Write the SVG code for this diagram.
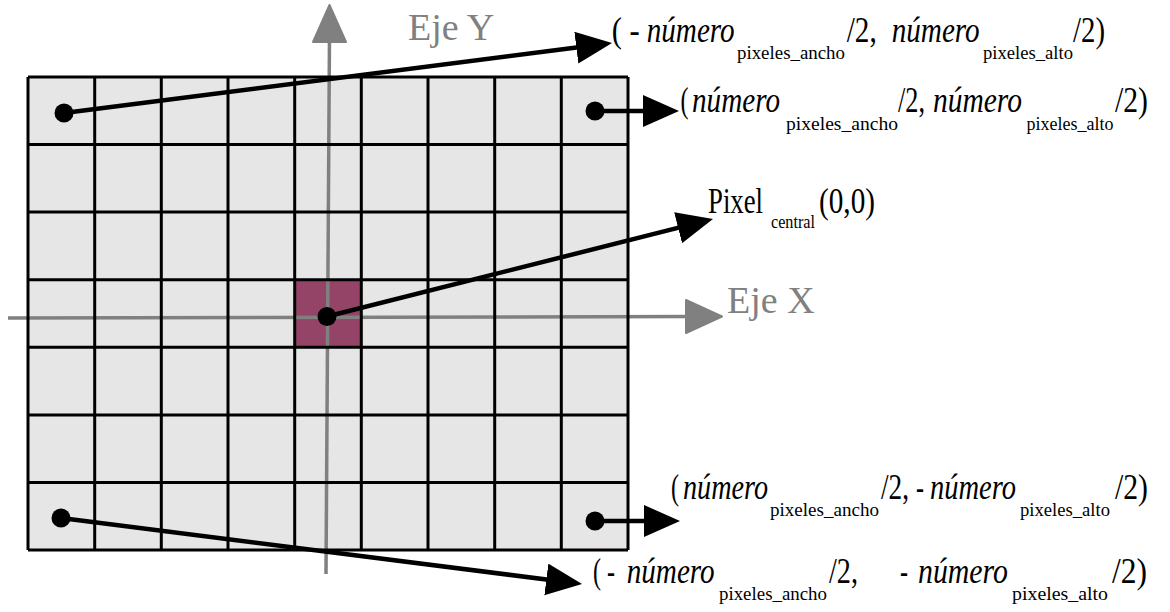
<svg xmlns="http://www.w3.org/2000/svg" width="1170" height="612" viewBox="0 0 1170 612">
<style>
.cell{fill:#e6e6e6}
.grid{stroke:#000;stroke-width:3;fill:none}
.axis{stroke:#808080;stroke-width:3.5;fill:none}
.conn{stroke:#000;stroke-width:4.5;fill:none}
.dot{fill:#000}
.m,.s,.axlbl{font-family:"Liberation Serif","Times New Roman",serif;fill:#000}
.m{font-size:35px}
.it{font-style:italic}
.s{font-size:18px}
.axlbl{font-size:38px;fill:#808080}
</style>
<defs>
<marker id="ah" markerUnits="userSpaceOnUse" markerWidth="37" markerHeight="33" refX="16" refY="16" orient="auto">
<path d="M0,0 L36,16 L0,32 z" fill="#000"/>
</marker>
</defs>
<g id="grid">
<rect class="cell" x="28" y="77" width="600" height="473"/>
<rect id="pixel-central" x="295" y="280" width="67" height="67" fill="#934467"/>
</g>
<g id="axes">
<g id="eje-y">
<line class="axis" x1="329.5" y1="35" x2="326" y2="574"/>
<path d="M329.5,5 L346,42 L313,42 z" fill="#808080" stroke="#808080" stroke-width="2" stroke-linejoin="round"/>
<text class="axlbl" x="408" y="40">Eje Y</text>
</g>
<g id="eje-x">
<line class="axis" x1="8" y1="318" x2="692" y2="316.5"/>
<path d="M722,316.5 L686,300 L686,333 z" fill="#808080" stroke="#808080" stroke-width="2" stroke-linejoin="round"/>
<text class="axlbl" x="727" y="313">Eje X</text>
</g>
</g>
<g id="gridlines" class="grid">
<path d="M28,77 V550 M94.7,77 V550 M161.3,77 V550 M228,77 V550 M294.7,77 V550 M361.3,77 V550 M428,77 V550 M494.7,77 V550 M561.3,77 V550 M628,77 V550"/>
<path d="M28,77 H628 M28,144.6 H628 M28,212.1 H628 M28,279.7 H628 M28,347.3 H628 M28,414.9 H628 M28,482.4 H628 M28,550 H628"/>
</g>
<g id="connectors">
<line class="conn" x1="64" y1="113" x2="592.2" y2="45.5" marker-end="url(#ah)"/>
<line class="conn" x1="595" y1="111" x2="659" y2="111" marker-end="url(#ah)"/>
<line class="conn" x1="327" y1="316.5" x2="693.6" y2="223.9" marker-end="url(#ah)"/>
<line class="conn" x1="61" y1="518" x2="562.2" y2="581.5" marker-end="url(#ah)"/>
<line class="conn" x1="595" y1="521" x2="660" y2="521" marker-end="url(#ah)"/>
</g>
<g id="dots">
<circle class="dot" cx="64" cy="113" r="9.5"/>
<circle class="dot" cx="595" cy="111" r="9.5"/>
<circle class="dot" cx="327" cy="316.5" r="9.5"/>
<circle class="dot" cx="61" cy="518" r="9.5"/>
<circle class="dot" cx="595" cy="521" r="9.5"/>
</g>
<g id="label-top-left">
<text class="m" x="611.7" y="42" textLength="28" lengthAdjust="spacingAndGlyphs">( -</text>
<text class="m it" x="646.7" y="42" textLength="88" lengthAdjust="spacingAndGlyphs">número</text>
<text class="s" x="737" y="59" textLength="108" lengthAdjust="spacingAndGlyphs">pixeles_ancho</text>
<text class="m" x="846.7" y="42" textLength="30" lengthAdjust="spacingAndGlyphs">/2,</text>
<text class="m it" x="891.7" y="42" textLength="88" lengthAdjust="spacingAndGlyphs">número</text>
<text class="s" x="983" y="59" textLength="90" lengthAdjust="spacingAndGlyphs">pixeles_alto</text>
<text class="m" x="1073" y="42" textLength="32" lengthAdjust="spacingAndGlyphs">/2)</text>
</g>
<g id="label-top-right">
<text class="m" x="680.5" y="111.5" textLength="8" lengthAdjust="spacingAndGlyphs">(</text>
<text class="m it" x="692" y="111.5" textLength="88" lengthAdjust="spacingAndGlyphs">número</text>
<text class="s" x="786" y="129.5" textLength="112" lengthAdjust="spacingAndGlyphs">pixeles_ancho</text>
<text class="m" x="898" y="111.5" textLength="27" lengthAdjust="spacingAndGlyphs">/2,</text>
<text class="m it" x="933" y="111.5" textLength="89" lengthAdjust="spacingAndGlyphs">número</text>
<text class="s" x="1026.5" y="129.5" textLength="87" lengthAdjust="spacingAndGlyphs">pixeles_alto</text>
<text class="m" x="1115" y="111.5" textLength="33" lengthAdjust="spacingAndGlyphs">/2)</text>
</g>
<g id="label-center">
<text class="m" x="708" y="213" textLength="55" lengthAdjust="spacingAndGlyphs">Pixel</text>
<text class="s" x="771" y="228" textLength="44" lengthAdjust="spacingAndGlyphs">central</text>
<text class="m" x="819" y="213" textLength="56" lengthAdjust="spacingAndGlyphs">(0,0)</text>
</g>
<g id="label-bottom-right">
<text class="m" x="671" y="499" textLength="8" lengthAdjust="spacingAndGlyphs">(</text>
<text class="m it" x="683" y="499" textLength="85" lengthAdjust="spacingAndGlyphs">número</text>
<text class="s" x="770" y="516" textLength="109" lengthAdjust="spacingAndGlyphs">pixeles_ancho</text>
<text class="m" x="881" y="499" textLength="28" lengthAdjust="spacingAndGlyphs">/2,</text>
<text class="m" x="916" y="499" textLength="8" lengthAdjust="spacingAndGlyphs">-</text>
<text class="m it" x="930" y="499" textLength="86" lengthAdjust="spacingAndGlyphs">número</text>
<text class="s" x="1020" y="516" textLength="90" lengthAdjust="spacingAndGlyphs">pixeles_alto</text>
<text class="m" x="1115" y="499" textLength="33" lengthAdjust="spacingAndGlyphs">/2)</text>
</g>
<g id="label-bottom-left">
<text class="m" x="593" y="583" textLength="22" lengthAdjust="spacingAndGlyphs">( -</text>
<text class="m it" x="626.7" y="583" textLength="88" lengthAdjust="spacingAndGlyphs">número</text>
<text class="s" x="719" y="600" textLength="108" lengthAdjust="spacingAndGlyphs">pixeles_ancho</text>
<text class="m" x="829" y="583" textLength="29" lengthAdjust="spacingAndGlyphs">/2,</text>
<text class="m" x="900" y="583" textLength="8" lengthAdjust="spacingAndGlyphs">-</text>
<text class="m it" x="918" y="583" textLength="90" lengthAdjust="spacingAndGlyphs">número</text>
<text class="s" x="1012" y="600" textLength="96" lengthAdjust="spacingAndGlyphs">pixeles_alto</text>
<text class="m" x="1112" y="583" textLength="35" lengthAdjust="spacingAndGlyphs">/2)</text>
</g>
</svg>
